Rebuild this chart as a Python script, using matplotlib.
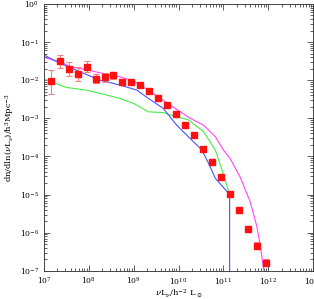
import numpy as np
import matplotlib
matplotlib.use("Agg")
import matplotlib.pyplot as plt
from matplotlib.ticker import LogLocator, NullFormatter

plt.rcParams['font.family'] = ['DejaVu Serif']
plt.rcParams['mathtext.fontset'] = 'dejavuserif'

# ---- data (log10 values) ----
log_L = [7.15, 7.35, 7.55, 7.75, 7.95, 8.15, 8.35, 8.55, 8.75, 8.95,
         9.15, 9.35, 9.55, 9.75, 9.95, 10.15, 10.35, 10.55, 10.75, 10.95,
         11.15, 11.35, 11.55, 11.75, 11.95]
log_phi = [-2.03, -1.51, -1.72, -1.84, -1.65, -1.96, -1.92, -1.86, -2.06, -2.04,
           -2.13, -2.28, -2.46, -2.65, -2.89, -3.17, -3.45, -3.81, -4.15, -4.53,
           -4.98, -5.41, -5.90, -6.34, -6.78]
err_up = [0.30, 0.17, 0.19, 0.18, 0.16, 0.13, 0.11, 0.08, 0.06, 0.05,
          0.04, 0.03, 0.03, 0.03, 0.03, 0.03, 0.03, 0.03, 0.03, 0.03,
          0.04, 0.07, 0.08, 0.09, 0.10]
err_dn = [0.33, 0.18, 0.18, 0.18, 0.13, 0.12, 0.13, 0.10, 0.06, 0.05,
          0.04, 0.03, 0.03, 0.03, 0.03, 0.03, 0.03, 0.03, 0.03, 0.03,
          0.04, 0.07, 0.08, 0.09, 0.10]

# model curves
mag_x = [7.0, 7.35, 7.6, 8.0, 8.3, 8.6, 9.0, 9.32, 9.81, 10.26, 10.56, 10.82, 11.0,
         11.15, 11.37, 11.6, 11.75, 11.84, 11.9]
mag_y = [-1.40, -1.52, -1.65, -1.74, -1.82, -1.88, -2.02, -2.26, -2.65, -3.00, -3.18,
         -3.48, -3.83, -4.05, -4.53, -5.19, -5.85, -6.46, -6.98]
blue_x = [7.0, 7.36, 7.8, 8.25, 8.7, 9.07, 9.33, 9.66, 9.96, 10.26, 10.52, 10.67, 10.82, 11.14, 11.14]
blue_y = [-1.34, -1.56, -1.78, -2.00, -2.13, -2.26, -2.48, -2.74, -3.18, -3.53, -3.83,
          -4.18, -4.57, -5.00, -7.5]
green_x = [7.0, 7.5, 7.95, 8.4, 8.7, 9.0, 9.33, 9.66, 9.96, 10.22, 10.56, 10.82, 10.97, 11.14]
green_y = [-1.97, -2.19, -2.26, -2.39, -2.48, -2.61, -2.83, -2.85, -2.96, -3.04, -3.35,
           -3.83, -4.36, -5.00]

# ---- plot ----
fig = plt.figure(figsize=(3.14, 2.99), dpi=100)
ax = fig.add_axes([0.140, 0.094, 0.857, 0.893])

L = 10 ** np.array(log_L)
phi = 10 ** np.array(log_phi)
lo = phi - 10 ** (np.array(log_phi) - np.array(err_dn))
hi = 10 ** (np.array(log_phi) + np.array(err_up)) - phi

ax.plot(10 ** np.array(mag_x), 10 ** np.array(mag_y), color="#ff44ff", lw=0.8)
ax.plot(10 ** np.array(green_x), 10 ** np.array(green_y), color="#44ee44", lw=0.8)
ax.plot(10 ** np.array(blue_x), 10 ** np.array(blue_y), color="#4455ff", lw=0.8)
ax.errorbar(L, phi, yerr=[lo, hi], fmt="none", ecolor="#f08080", elinewidth=0.8,
            capsize=2.2, capthick=0.8)
ax.plot(L, phi, "s", color="#ff1010", ms=3.8, mec="#ff1010")

ax.set_xscale("log")
ax.set_yscale("log")
ax.set_xlim(1e7, 1e13)
ax.set_ylim(1e-7, 1e0)

for axis in (ax.xaxis, ax.yaxis):
    axis.set_major_locator(LogLocator(base=10, numticks=20))
    axis.set_minor_locator(LogLocator(base=10, subs=np.arange(2, 10), numticks=20))
    axis.set_minor_formatter(NullFormatter())
ax.tick_params(which="both", direction="in", top=True, right=True, labelsize=5.5,
               color="#444444", width=0.6)
ax.tick_params(which="major", length=4)
ax.tick_params(which="minor", length=2)
for s in ax.spines.values():
    s.set_linewidth(0.7)
    s.set_color("#444444")

ax.set_xlabel(r"$\nu\mathrm{L}_\nu/\mathrm{h}^{-2}\ \mathrm{L}_\odot$", fontsize=6, labelpad=0)
ax.set_ylabel(r"$\mathrm{dn/dln}(\nu\mathrm{L}_\nu)/\mathrm{h}^3\mathrm{Mpc}^{-3}$", fontsize=6, labelpad=2)

fig.savefig("out.png", dpi=100)
